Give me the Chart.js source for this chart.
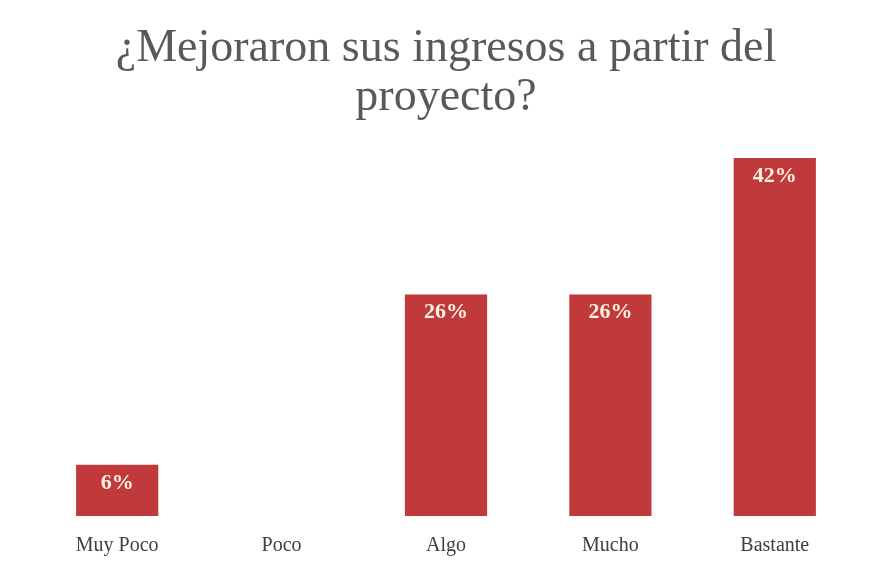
<!DOCTYPE html>
<html><head><meta charset="utf-8">
<script src="https://cdn.jsdelivr.net/npm/chart.js@4/dist/chart.umd.min.js"></script>
<style>html,body{margin:0;padding:0;background:#fff;}#wrap{width:869px;height:568px;}</style>
</head><body><div id="wrap"><canvas id="c" width="869" height="568"></canvas></div>
<script>
const categories = ["Muy Poco", "Poco", "Algo", "Mucho", "Bastante"];
const values = [6, 0, 26, 26, 42];
const valueLabels = ["6%", "", "26%", "26%", "42%"];
const titleLines = ["¿Mejoraron sus ingresos a partir del", "proyecto?"];

const labelPlugin = {
  id: 'barLabels',
  afterDatasetsDraw(chart) {
    const ctx = chart.ctx;
    const meta = chart.getDatasetMeta(0);
    ctx.save();
    ctx.font = 'bold 22px "Liberation Serif", serif';
    ctx.fillStyle = '#fdf3e3';
    ctx.textAlign = 'center';
    ctx.textBaseline = 'middle';
    meta.data.forEach((bar, i) => {
      if (!valueLabels[i]) return;
      ctx.fillText(valueLabels[i], bar.x, bar.y + 18);
    });
    ctx.restore();
  }
};

new Chart(document.getElementById('c'), {
  type: 'bar',
  data: {
    labels: categories,
    datasets: [{ data: values, backgroundColor: '#c0393b', borderWidth: 0,
      barPercentage: 0.5, categoryPercentage: 1.0 }]
  },
  options: {
    responsive: false,
    animation: false,
    layout: { padding: { left: 35, right: 12, top: 0, bottom: 0 } },
    plugins: {
      legend: { display: false },
      tooltip: { enabled: false },
      title: {
        display: true,
        text: titleLines,
        color: '#595959',
        font: { family: '"Liberation Serif", serif', size: 46, weight: 'normal', lineHeight: 1.07 },
        padding: { top: 24, bottom: 10 }
      }
    },
    scales: {
      x: {
        grid: { display: false },
        border: { display: false },
        ticks: { color: '#404040', font: { family: '"Liberation Serif", serif', size: 20 }, padding: 10 }
      },
      y: { display: false, min: 0, max: 45 }
    }
  },
  plugins: [labelPlugin]
});
</script></body></html>
